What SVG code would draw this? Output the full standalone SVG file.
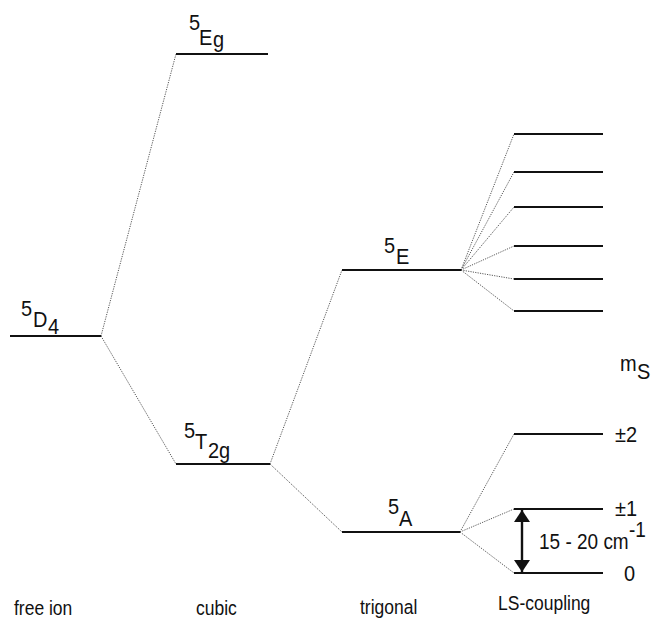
<svg xmlns="http://www.w3.org/2000/svg" width="653" height="621" viewBox="0 0 653 621">
  <defs>
    <marker id="ahead" viewBox="0 0 12 16" refX="12" refY="8" markerWidth="12" markerHeight="16" markerUnits="userSpaceOnUse" orient="auto">
      <path d="M0,0 L12,8 L0,16 Z" fill="#111"/>
    </marker>
    <marker id="atail" viewBox="0 0 12 16" refX="0" refY="8" markerWidth="12" markerHeight="16" markerUnits="userSpaceOnUse" orient="auto">
      <path d="M12,0 L0,8 L12,16 Z" fill="#111"/>
    </marker>
  </defs>
  <style>
    .level { stroke: #111; stroke-width: 2.2; fill: none; }
    .link { stroke: #444; stroke-width: 0.9; stroke-dasharray: 1.2 1.2; fill: none; }
    .lbl { font-family: "Liberation Sans", Arial, sans-serif; font-size: 20px; fill: #111; }
    .note { font-family: "Liberation Sans", Arial, sans-serif; font-size: 19px; fill: #111; }
    .axis { font-family: "Liberation Sans", Arial, sans-serif; font-size: 17.5px; fill: #111; }
    .gap { stroke: #111; stroke-width: 2.4; fill: none; }
  </style>
  <rect width="653" height="621" fill="#ffffff"/>

  <!-- dotted correlation lines and the gap arrow -->
  <g id="connectors">
    <line class="link" x1="101" y1="336" x2="176" y2="54"/>
    <line class="link" x1="101" y1="336" x2="176" y2="464"/>
    <line class="link" x1="270" y1="464" x2="342" y2="270"/>
    <line class="link" x1="270" y1="464" x2="342" y2="532"/>
    <line class="link" x1="461" y1="270" x2="514" y2="134"/>
    <line class="link" x1="461" y1="270" x2="514" y2="172"/>
    <line class="link" x1="461" y1="270" x2="514" y2="207"/>
    <line class="link" x1="461" y1="270" x2="514" y2="246"/>
    <line class="link" x1="461" y1="270" x2="514" y2="279"/>
    <line class="link" x1="461" y1="270" x2="514" y2="311"/>
    <line class="link" x1="460" y1="532" x2="514" y2="434"/>
    <line class="link" x1="460" y1="532" x2="514" y2="509"/>
    <line class="link" x1="460" y1="532" x2="514" y2="573"/>
    <line class="gap" x1="522" y1="510" x2="522" y2="572" marker-start="url(#atail)" marker-end="url(#ahead)"/>
  </g>

  <!-- labels are drawn slightly taller than wide: scale(1,1.12) about their baseline -->
  <g id="free-ion">
    <line class="level" x1="10" y1="336" x2="101" y2="336"/>
    <text class="lbl" transform="translate(21,316) scale(1,1.12)">5</text>
    <text class="lbl" transform="translate(33,327) scale(1,1.12)">D</text>
    <text class="lbl" transform="translate(48,334) scale(1,1.12)">4</text>
  </g>

  <g id="cubic-Eg">
    <line class="level" x1="176" y1="54" x2="268" y2="54"/>
    <text class="lbl" transform="translate(189,30) scale(1,1.12)">5</text>
    <text class="lbl" transform="translate(199,45) scale(1,1.12)">E</text>
    <text class="lbl" transform="translate(213,47) scale(1,1.12)">g</text>
  </g>

  <g id="cubic-T2g">
    <line class="level" x1="176" y1="464" x2="270" y2="464"/>
    <text class="lbl" transform="translate(184,438) scale(1,1.12)">5</text>
    <text class="lbl" transform="translate(195,449) scale(1,1.12)">T</text>
    <text class="lbl" transform="translate(208,458) scale(1,1.12)">2g</text>
  </g>

  <g id="trigonal-E">
    <line class="level" x1="342" y1="270" x2="461" y2="270"/>
    <text class="lbl" transform="translate(384,253) scale(1,1.12)">5</text>
    <text class="lbl" transform="translate(396,264) scale(1,1.12)">E</text>
  </g>

  <g id="trigonal-A">
    <line class="level" x1="342" y1="532" x2="460" y2="532"/>
    <text class="lbl" transform="translate(388,514) scale(1,1.12)">5</text>
    <text class="lbl" transform="translate(399,526) scale(1,1.12)">A</text>
  </g>

  <g id="ls-E-split">
    <line class="level" x1="514" y1="134" x2="603" y2="134"/>
    <line class="level" x1="514" y1="172" x2="603" y2="172"/>
    <line class="level" x1="514" y1="207" x2="603" y2="207"/>
    <line class="level" x1="514" y1="246" x2="603" y2="246"/>
    <line class="level" x1="514" y1="279" x2="603" y2="279"/>
    <line class="level" x1="514" y1="311" x2="603" y2="311"/>
  </g>

  <g id="ls-A-split">
    <text class="lbl" transform="translate(620,371) scale(1,1.12)">m</text>
    <text class="lbl" transform="translate(637,379) scale(1,1.12)">S</text>
    <line class="level" x1="514" y1="434" x2="603" y2="434"/>
    <text class="lbl" transform="translate(615,442) scale(1,1.12)">±2</text>
    <line class="level" x1="514" y1="509" x2="603" y2="509"/>
    <text class="lbl" transform="translate(615,516) scale(1,1.12)">±1</text>
    <line class="level" x1="514" y1="573" x2="603" y2="573"/>
    <text class="lbl" transform="translate(624,581) scale(1,1.12)">0</text>
    <text class="note" transform="translate(539,549) scale(1,1.12)">15 - 20 cm</text>
    <text class="note" transform="translate(629,537) scale(1,1.12)">-1</text>
  </g>

  <g id="axis-labels">
    <text class="axis" transform="translate(14,615) scale(1,1.18)">free ion</text>
    <text class="axis" transform="translate(196,615) scale(1,1.18)">cubic</text>
    <text class="axis" transform="translate(360,614) scale(1,1.18)">trigonal</text>
    <text class="axis" transform="translate(498,610) scale(1,1.18)">LS-coupling</text>
  </g>
</svg>
